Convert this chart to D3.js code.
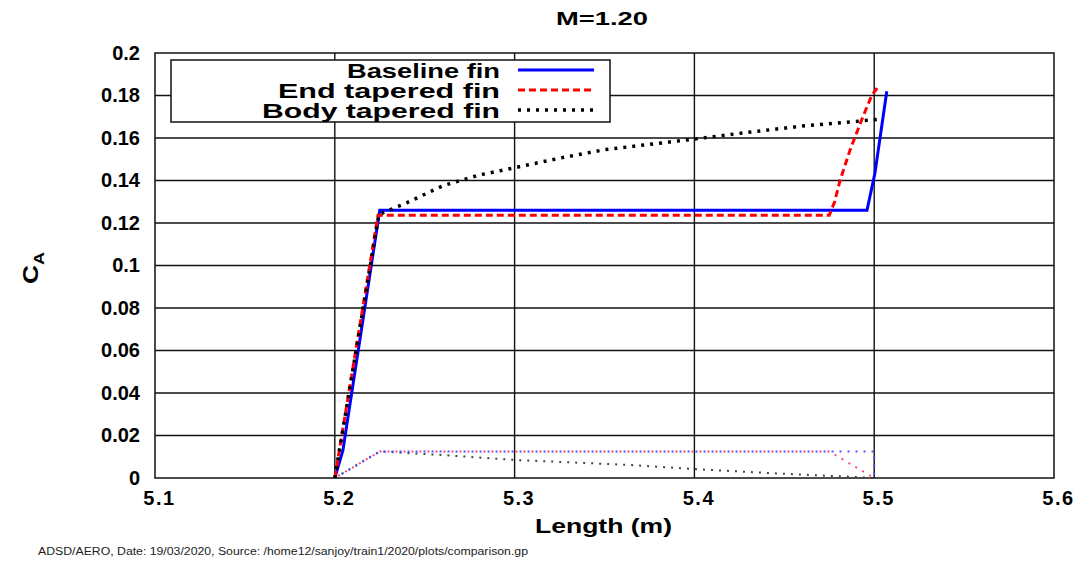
<!DOCTYPE html>
<html>
<head>
<meta charset="utf-8">
<script src="https://cdn.jsdelivr.net/npm/d3@7"></script>
<style>
  body { margin: 0; background: #fff; }
  text { font-family: "Liberation Sans", Arial, sans-serif; }
</style>
</head>
<body>
<div id="chart"></div>
<script>
// series: [length, CA]
var baseline = [[5.2, 0], [5.2045, 0.013], [5.225, 0.126], [5.496, 0.126], [5.5004, 0.1434], [5.507, 0.182]];
var endTapered = [[5.2, 0], [5.224, 0.1236], [5.475, 0.1236], [5.478, 0.130], [5.481, 0.140], [5.4866, 0.1544], [5.493, 0.1685], [5.4986, 0.180], [5.5023, 0.1842]];
var bodyTapered = [[5.2, 0], [5.2245, 0.124], [5.24, 0.1295], [5.26, 0.1375], [5.28, 0.1425], [5.3, 0.146], [5.325, 0.1505],
    [5.35, 0.1545], [5.375, 0.157], [5.4, 0.1595], [5.43, 0.1627], [5.46, 0.1656], [5.503, 0.1688]];

// lower thin dotted curves
var baselineLow = [[5.2, 0], [5.225, 0.0125], [5.5, 0.0125], [5.5, 0]];
var endTaperedLow = [[5.2, 0], [5.225, 0.0125], [5.475, 0.0125], [5.5, 0]];
var bodyTaperedLow = [[5.2, 0], [5.225, 0.0125], [5.26, 0.0108], [5.3, 0.0085], [5.365, 0.0061], [5.4, 0.0042], [5.431, 0.0028], [5.459, 0.0016], [5.487, 0.0006], [5.5, 0]];

var xTicks = [5.1, 5.2, 5.3, 5.4, 5.5, 5.6];
var yTicks = [0, 0.02, 0.04, 0.06, 0.08, 0.1, 0.12, 0.14, 0.16, 0.18, 0.2];
var yTickLabels = ["0", "0.02", "0.04", "0.06", "0.08", "0.1", "0.12", "0.14", "0.16", "0.18", "0.2"];
var legendNames = ["Baseline fin", "End tapered fin", "Body tapered fin"];

var W = 1081, H = 561;
var svg = d3.select("#chart").append("svg")
    .attr("width", W)
    .attr("height", H);

var margin = {top: 53, right: 27, bottom: 83, left: 155};
var width = W - margin.left - margin.right,
    height = H - margin.top - margin.bottom;

var x = d3.scaleLinear().domain([5.1, 5.6]).range([0, width]);
var y = d3.scaleLinear().domain([0, 0.2]).range([height, 0]);

var g = svg.append("g").attr("transform", "translate(" + margin.left + "," + margin.top + ")");

// grid
g.append("g").selectAll("line")
    .data(xTicks.slice(1, -1))
    .enter().append("line")
    .attr("x1", function(d) { return x(d); })
    .attr("x2", function(d) { return x(d); })
    .attr("y1", 0).attr("y2", height)
    .attr("stroke", "#111").attr("stroke-width", 1.4);
g.append("g").selectAll("line")
    .data(yTicks.slice(1, -1))
    .enter().append("line")
    .attr("y1", function(d) { return y(d); })
    .attr("y2", function(d) { return y(d); })
    .attr("x1", 0).attr("x2", width)
    .attr("stroke", "#111").attr("stroke-width", 1.4);

// axes
var xAxis = g.append("g")
    .attr("transform", "translate(0," + height + ")")
    .call(d3.axisBottom(x).tickValues(xTicks).tickSize(0).tickPadding(13).tickFormat(d3.format(".1f")));
var yAxis = g.append("g")
    .call(d3.axisLeft(y).tickValues(yTicks).tickSize(0).tickPadding(15)
        .tickFormat(function(d, i) { return yTickLabels[i]; }));
[xAxis, yAxis].forEach(function(a) {
    a.select(".domain").remove();
    a.selectAll("text")
        .attr("font-family", "Liberation Sans, Arial, sans-serif")
        .attr("font-size", 20)
        .attr("font-weight", "bold")
        .attr("fill", "#000");
});
xAxis.selectAll("text").attr("letter-spacing", 1.5).attr("dx", 4);

// frame
g.append("rect")
    .attr("width", width).attr("height", height)
    .attr("fill", "none").attr("stroke", "#111").attr("stroke-width", 1.5);

var line = d3.line()
    .x(function(d) { return x(d[0]); })
    .y(function(d) { return y(d[1]); });

// thin lower curves
g.append("path").datum(bodyTaperedLow).attr("d", line)
    .attr("fill", "none").attr("stroke", "#444").attr("stroke-width", 2)
    .attr("stroke-dasharray", "2,6");
g.append("path").datum(baselineLow).attr("d", line)
    .attr("fill", "none").attr("stroke", "#5050ff").attr("stroke-width", 2)
    .attr("stroke-dasharray", "2,6");
g.append("path").datum(endTaperedLow).attr("d", line)
    .attr("fill", "none").attr("stroke", "#ff4a7a").attr("stroke-width", 2)
    .attr("stroke-dasharray", "2,6").attr("stroke-dashoffset", 4);

// main curves
g.append("path").datum(baseline).attr("d", line)
    .attr("fill", "none").attr("stroke", "#0000ff").attr("stroke-width", 3);
g.append("path").datum(endTapered).attr("d", line)
    .attr("fill", "none").attr("stroke", "#ff0000").attr("stroke-width", 3)
    .attr("stroke-dasharray", "7,4");
g.append("path").datum(bodyTapered).attr("d", line)
    .attr("fill", "none").attr("stroke", "#000").attr("stroke-width", 3.5)
    .attr("stroke-dasharray", "3,6");

// legend
var legend = svg.append("g").attr("class", "legend");
legend.append("rect")
    .attr("x", 171).attr("y", 60).attr("width", 439).attr("height", 62)
    .attr("fill", "#fff").attr("stroke", "#111").attr("stroke-width", 1.5);
var styles = [
    {stroke: "#0000ff", dash: null, w: 3, len: 153},
    {stroke: "#ff0000", dash: "7,4", w: 3, len: 222},
    {stroke: "#000", dash: "3,6", w: 3.5, len: 238}
];
legendNames.forEach(function(name, i) {
    var base = 78 + i * 20;
    legend.append("text")
        .attr("x", 500).attr("y", base)
        .attr("text-anchor", "end")
        .attr("font-size", 20).attr("font-weight", "bold")
        .attr("textLength", styles[i].len)
        .attr("lengthAdjust", "spacingAndGlyphs")
        .text(name);
    legend.append("line")
        .attr("x1", 518).attr("x2", 594).attr("y1", base - 8).attr("y2", base - 8)
        .attr("stroke", styles[i].stroke).attr("stroke-width", styles[i].w)
        .attr("stroke-dasharray", styles[i].dash);
});

// titles
svg.append("text")
    .attr("x", 556).attr("y", 25)
    .attr("font-size", 18).attr("font-weight", "bold")
    .attr("textLength", 92).attr("lengthAdjust", "spacingAndGlyphs")
    .text("M=1.20");
svg.append("text")
    .attr("x", 535).attr("y", 533)
    .attr("font-size", 20).attr("font-weight", "bold")
    .attr("textLength", 137).attr("lengthAdjust", "spacingAndGlyphs")
    .text("Length (m)");
var yl = svg.append("text")
    .attr("transform", "translate(38,268) rotate(-90) scale(1.2,1)")
    .attr("text-anchor", "middle")
    .attr("font-size", 22).attr("font-weight", "bold");
yl.append("tspan").text("C");
yl.append("tspan").attr("dy", 6).attr("font-size", 15).text("A");

svg.append("text")
    .attr("x", 38).attr("y", 555)
    .attr("font-size", 10)
    .attr("fill", "#222")
    .attr("textLength", 490).attr("lengthAdjust", "spacingAndGlyphs")
    .text("ADSD/AERO, Date: 19/03/2020, Source: /home12/sanjoy/train1/2020/plots/comparison.gp");
</script>
</body>
</html>
